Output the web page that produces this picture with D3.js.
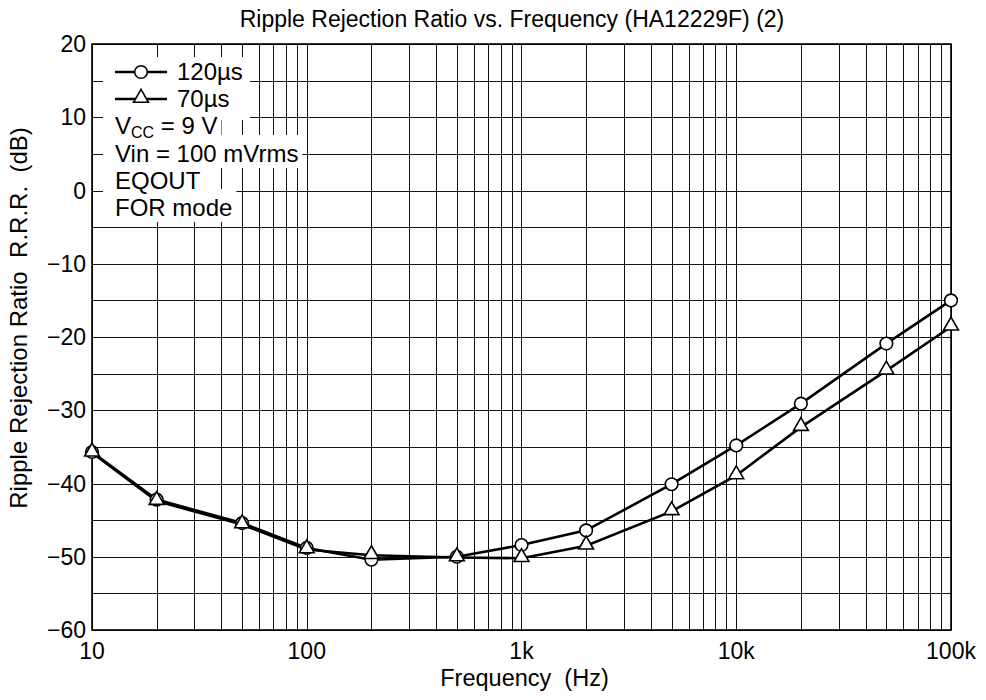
<!DOCTYPE html>
<html>
<head>
<meta charset="utf-8">
<script src="https://cdn.jsdelivr.net/npm/d3@7"></script>
<style>
  body { margin: 0; background: #fff; }
  svg { display: block; font-family: "Liberation Sans", Arial, sans-serif; }
</style>
</head>
<body>
<div id="chart"></div>
<script>
// Frequency points (Hz)
const freqs = [10, 20, 50, 100, 200, 500, 1000, 2000, 5000, 10000, 20000, 50000, 100000];
// R.R.R. (dB) for each setting
const rrr120 = [-35.7, -42.2, -45.4, -48.8, -50.4, -50.0, -48.4, -46.4, -40.1, -34.8, -29.1, -20.9, -15.0];
const rrr70 = [-35.8, -42.4, -45.6, -49.0, -49.8, -50.1, -50.2, -48.5, -43.8, -38.9, -32.3, -24.6, -18.6];

const xTicks = [10, 100, 1000, 10000, 100000];
const xTickLabels = ["10", "100", "1k", "10k", "100k"];
const yTicks = [20, 10, 0, -10, -20, -30, -40, -50, -60];

const width = 986;
const height = 700;
const margin = { top: 44, right: 35, bottom: 70, left: 92 };

const svg = d3.select("#chart")
  .append("svg")
  .attr("width", width)
  .attr("height", height);

const x = d3.scaleLog()
  .domain([10, 100000])
  .range([margin.left, width - margin.right]);

const y = d3.scaleLinear()
  .domain([-60, 20])
  .range([height - margin.bottom, margin.top]);

// grid
const grid = svg.append("g").attr("stroke", "#111").attr("stroke-width", 1);
grid.selectAll("line.v")
  .data(x.ticks())
  .join("line")
  .attr("class", "v")
  .attr("x1", d => Math.round(x(d)) + 0.5)
  .attr("x2", d => Math.round(x(d)) + 0.5)
  .attr("y1", y(20))
  .attr("y2", y(-60));
grid.selectAll("line.h")
  .data(d3.range(-60, 20.1, 5))
  .join("line")
  .attr("class", "h")
  .attr("x1", x(10))
  .attr("x2", x(100000))
  .attr("y1", d => Math.round(y(d)) + 0.5)
  .attr("y2", d => Math.round(y(d)) + 0.5);

// frame
svg.append("rect")
  .attr("x", x(10))
  .attr("y", y(20))
  .attr("width", x(100000) - x(10))
  .attr("height", y(-60) - y(20))
  .attr("fill", "none")
  .attr("stroke", "#000")
  .attr("stroke-width", 1.6);

// axes labels
svg.append("g")
  .selectAll("text")
  .data(xTicks)
  .join("text")
  .attr("x", d => x(d))
  .attr("y", y(-60) + 29)
  .attr("text-anchor", "middle")
  .attr("font-size", 23)
  .text((d, i) => xTickLabels[i]);

svg.append("g")
  .selectAll("text")
  .data(yTicks)
  .join("text")
  .attr("x", x(10) - 6)
  .attr("y", d => y(d) + 8)
  .attr("text-anchor", "end")
  .attr("font-size", 23)
  .text(d => (d < 0 ? "\u2212" + Math.abs(d) : d));

svg.append("text")
  .attr("x", 512)
  .attr("y", 27)
  .attr("text-anchor", "middle")
  .attr("font-size", 23)
  .text("Ripple Rejection Ratio vs. Frequency (HA12229F) (2)");

svg.append("text")
  .attr("x", x(1000) + 3)
  .attr("y", 686)
  .attr("text-anchor", "middle")
  .attr("font-size", 23.5)
  .attr("xml:space", "preserve")
  .text("Frequency  (Hz)");

svg.append("text")
  .attr("transform", "translate(27,318) rotate(-90)")
  .attr("text-anchor", "middle")
  .attr("font-size", 24)
  .attr("xml:space", "preserve")
  .text("Ripple Rejection Ratio  R.R.R.  (dB)");

// series
const line = d3.line()
  .x(d => x(d[0]))
  .y(d => y(d[1]));

const s120 = freqs.map((f, i) => [f, rrr120[i]]);
const s70 = freqs.map((f, i) => [f, rrr70[i]]);

svg.append("path").datum(s120)
  .attr("d", line).attr("fill", "none").attr("stroke", "#000").attr("stroke-width", 2.6);
svg.append("path").datum(s70)
  .attr("d", line).attr("fill", "none").attr("stroke", "#000").attr("stroke-width", 2.6);

const tri = d3.symbol().type(d3.symbolTriangle).size(95);

svg.append("g").selectAll("circle")
  .data(s120)
  .join("circle")
  .attr("cx", d => x(d[0]))
  .attr("cy", d => y(d[1]))
  .attr("r", 6.3)
  .attr("fill", "#fff")
  .attr("stroke", "#000")
  .attr("stroke-width", 1.6);

svg.append("g").selectAll("path")
  .data(s70)
  .join("path")
  .attr("d", tri)
  .attr("transform", d => `translate(${x(d[0])},${y(d[1]) - 1})`)
  .attr("fill", "#fff")
  .attr("stroke", "#000")
  .attr("stroke-width", 1.6);

// legend block, white patches hide the grid behind it
const legend = svg.append("g");
const baselines = [80, 107, 134, 162, 189, 216];
const textX = 115;
const patchLeft = 103;

function patch(textSel) {
  const b = textSel.node().getBBox();
  const base = +textSel.attr("y");
  legend.insert("rect", ":first-child")
    .attr("x", patchLeft)
    .attr("y", base - 27)
    .attr("width", b.x + b.width + 4 - patchLeft)
    .attr("height", 33)
    .attr("fill", "#fff");
}

legend.append("rect")
  .attr("x", patchLeft).attr("y", 57).attr("width", 147).attr("height", 63).attr("fill", "#fff");

[["circle", "120\u00b5s"], ["tri", "70\u00b5s"]].forEach(([m, label], i) => {
  const cy = baselines[i] - 8;
  legend.append("line")
    .attr("x1", 115).attr("x2", 167).attr("y1", cy).attr("y2", cy)
    .attr("stroke", "#000").attr("stroke-width", 2.6);
  if (m === "circle") {
    legend.append("circle").attr("cx", 141).attr("cy", cy).attr("r", 6.3)
      .attr("fill", "#fff").attr("stroke", "#000").attr("stroke-width", 1.6);
  } else {
    legend.append("path").attr("d", tri).attr("transform", `translate(141,${cy - 1})`)
      .attr("fill", "#fff").attr("stroke", "#000").attr("stroke-width", 1.6);
  }
  legend.append("text")
    .attr("x", 177).attr("y", baselines[i]).attr("font-size", 24).text(label);
});

const vcc = legend.append("text").attr("x", textX).attr("y", baselines[2]).attr("font-size", 24);
vcc.append("tspan").text("V");
vcc.append("tspan").attr("dy", 4).attr("font-size", 16).text("CC");
vcc.append("tspan").attr("dy", -4).text(" = 9 V");
patch(vcc);

["Vin = 100 mVrms", "EQOUT", "FOR mode"].forEach((s, i) => {
  const t = legend.append("text")
    .attr("x", textX).attr("y", baselines[i + 3]).attr("font-size", 24).text(s);
  patch(t);
});
</script>
</body>
</html>
